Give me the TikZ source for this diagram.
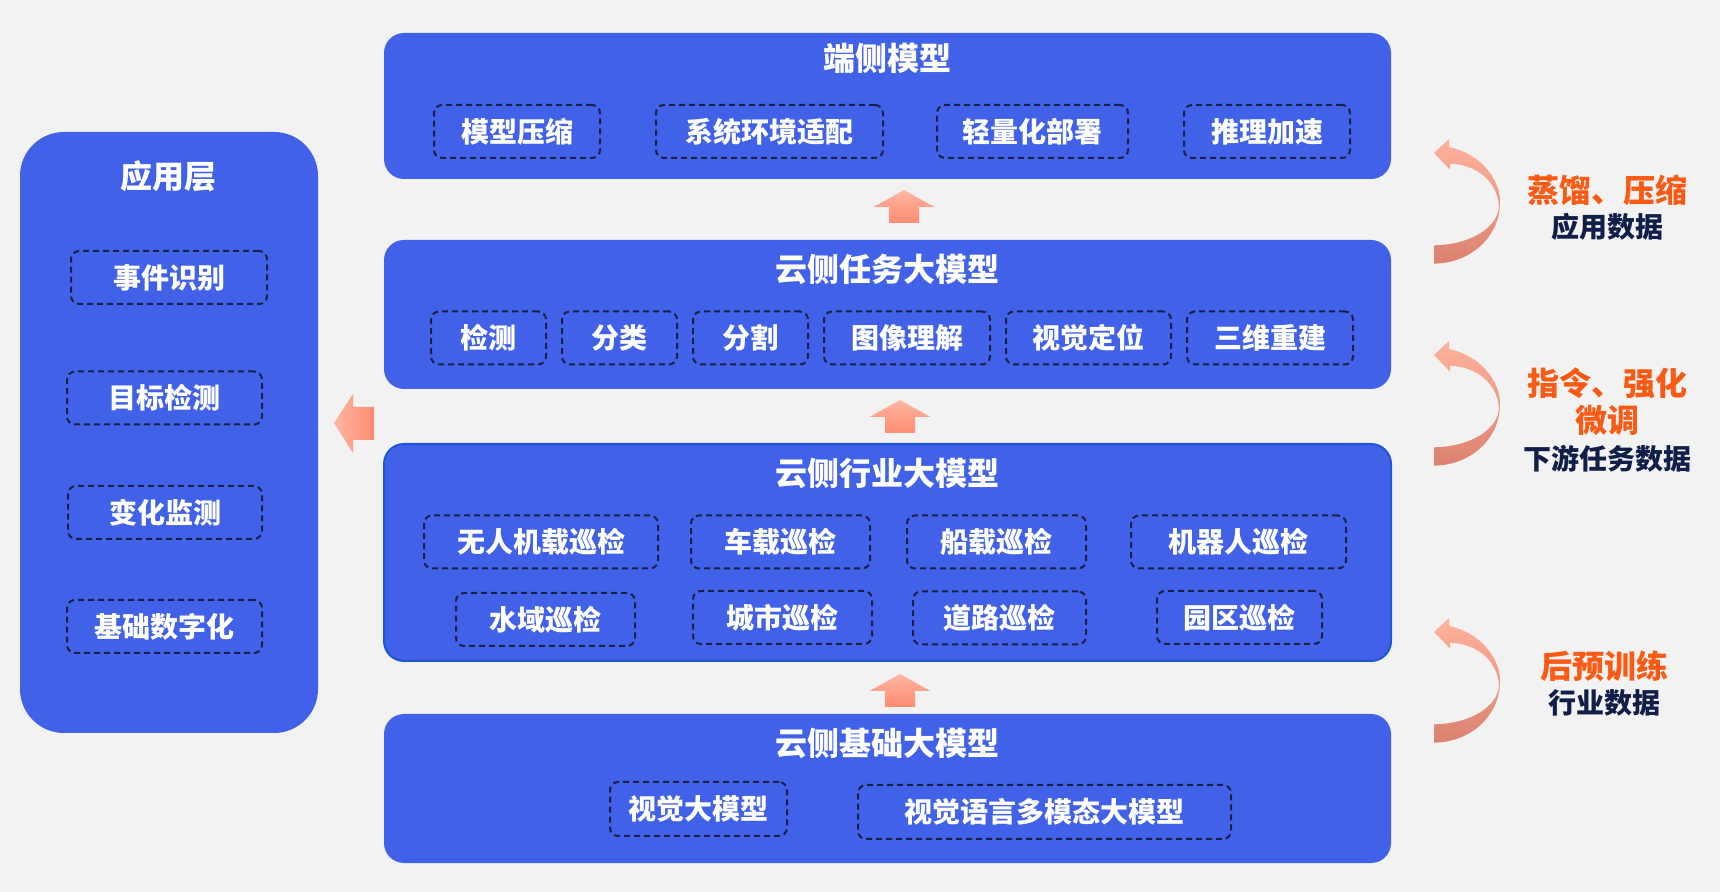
\documentclass[tikz,border=0pt]{standalone}
\usepackage{fontspec}
\setmainfont{Noto Sans CJK SC}
\usetikzlibrary{shapes.geometric}
\definecolor{bg}{HTML}{F2F2F2}
\definecolor{boxblue}{HTML}{4162E8}
\definecolor{edgeblue}{HTML}{1F56D6}
\definecolor{dashnavy}{HTML}{1A2045}
\definecolor{orangetxt}{HTML}{FA5A14}
\definecolor{navytxt}{HTML}{101E48}
\definecolor{arrlight}{HTML}{FFB6A1}
\definecolor{arrdark}{HTML}{FF8B72}
\definecolor{curvtop}{HTML}{FFB29C}
\definecolor{curvbot}{HTML}{DB826F}
\tikzset{
  bigbox/.style={fill=boxblue, rounded corners=10pt, inner sep=0pt},
  titletext/.style={text=white, font=\fontsize{16}{19}\selectfont\bfseries},
  itembox/.style={draw=dashnavy, line width=1pt, dash pattern=on 3pt off 2pt,
    rounded corners=4pt, text=white, font=\fontsize{14}{17}\selectfont\bfseries,
    inner sep=0pt, minimum height=26.5pt},
  orangetext/.style={text=orangetxt, font=\fontsize{16}{19}\selectfont\bfseries},
  navytext/.style={text=navytxt, font=\fontsize{14}{17}\selectfont\bfseries},
  uparrow/.style={top color=arrlight, bottom color=arrdark},
  curvarrow/.style={top color=curvtop, bottom color=curvbot},
}
\newcommand{\myup}[3]{% center x, tip y, name
  \shade[uparrow] (#1,#2) -- (#1+30.5,#2+17) -- (#1+15,#2+17) -- (#1+15,#2+33)
   -- (#1-15,#2+33) -- (#1-15,#2+17) -- (#1-30.5,#2+17) -- cycle;
  \coordinate (#3) at (#1,#2);
}
\newcommand{\mycurv}[2]{% tip x, tip y
  \shade[curvarrow] (#1,#2) -- (#1+15,#2-14) -- (#1+15,#2-6)
    .. controls (#1+45,#2) and (#1+66,#2+25) .. (#1+66,#2+49)
    .. controls (#1+66,#2+85) and (#1+35,#2+110.6) .. (#1,#2+110.6)
    -- (#1,#2+92.3)
    .. controls (#1+35,#2+92) and (#1+65,#2+75) .. (#1+65,#2+52)
    .. controls (#1+63,#2+30) and (#1+45,#2+12) .. (#1+16,#2+10.6)
    -- (#1+16,#2+16.6) -- cycle;
}
\begin{document}
\begin{tikzpicture}[x=0.5pt,y=-0.5pt]
\useasboundingbox (0,0) rectangle (1720,892);
\fill[bg] (0,0) rectangle (1720,892);

% application layer
\node[bigbox, rounded corners=22pt, minimum width=149pt, minimum height=300.5pt] (app) at (169,432.5) {};
\node[titletext] (apptitle) at (168,176) {应用层};
\node[itembox, minimum width=98pt] (a1) at (169,277.5) {事件识别};
\node[itembox, minimum width=97.5pt] (a2) at (164.5,398) {目标检测};
\node[itembox, minimum width=97pt] (a3) at (165,512.5) {变化监测};
\node[itembox, minimum width=97.5pt] (a4) at (164.5,626.5) {基础数字化};

% edge model
\node[bigbox, minimum width=503.5pt, minimum height=73pt] (edge) at (887.5,106) {};
\node[titletext] (edgetitle) at (887.5,58) {端侧模型};
\node[itembox, minimum width=83pt] (e1) at (517,131.5) {模型压缩};
\node[itembox, minimum width=113.5pt] (e2) at (769.5,131.5) {系统环境适配};
\node[itembox, minimum width=95.5pt] (e3) at (1032.5,131.5) {轻量化部署};
\node[itembox, minimum width=83pt] (e4) at (1267,131.5) {推理加速};

% task model
\node[bigbox, minimum width=503.5pt, minimum height=74.5pt] (task) at (887.5,314.5) {};
\node[titletext] (tasktitle) at (887.5,269) {云侧任务大模型};
\node[itembox, minimum width=57.5pt] (t1) at (488.5,338) {检测};
\node[itembox, minimum width=57.5pt] (t2) at (619.5,338) {分类};
\node[itembox, minimum width=57.5pt] (t3) at (750.5,338) {分割};
\node[itembox, minimum width=83pt] (t4) at (907,338) {图像理解};
\node[itembox, minimum width=82.5pt] (t5) at (1088.5,338) {视觉定位};
\node[itembox, minimum width=83pt] (t6) at (1270,338) {三维重建};

% industry model
\node[bigbox, draw=edgeblue, line width=1pt, minimum width=503.5pt, minimum height=108.5pt] (ind) at (887.5,552.5) {};
\node[titletext] (indtitle) at (887.5,473) {云侧行业大模型};
\node[itembox, minimum width=117pt] (i1) at (541,542) {无人机载巡检};
\node[itembox, minimum width=89.5pt] (i2) at (780.5,542) {车载巡检};
\node[itembox, minimum width=89.5pt] (i3) at (996.5,542) {船载巡检};
\node[itembox, minimum width=107.5pt] (i4) at (1238.5,542) {机器人巡检};
\node[itembox, minimum width=89.5pt] (i5) at (545.5,619.5) {水域巡检};
\node[itembox, minimum width=89.5pt] (i6) at (782.5,617.5) {城市巡检};
\node[itembox, minimum width=86.5pt] (i7) at (999.5,618) {道路巡检};
\node[itembox, minimum width=82.5pt] (i8) at (1239.5,617.5) {园区巡检};

% base model
\node[bigbox, minimum width=503.5pt, minimum height=74.5pt] (base) at (887.5,788.5) {};
\node[titletext] (basetitle) at (887.5,743) {云侧基础大模型};
\node[itembox, minimum width=88.5pt, minimum height=27pt] (b1) at (698.5,809) {视觉大模型};
\node[itembox, minimum width=186.5pt, minimum height=27pt] (b2) at (1044.5,812) {视觉语言多模态大模型};

% up arrows
\myup{904}{190}{u1}
\myup{900}{400}{u2}
\myup{900}{674}{u3}

% left arrow
\shade[left color=arrlight, right color=arrdark] (334,423) -- (353,394) -- (353,407) -- (374,407)
  -- (374,440) -- (353,440) -- (353,453) -- cycle;

% curved arrows
\mycurv{1434}{153}
\mycurv{1434}{355}
\mycurv{1434}{632}

% right texts
\node[orangetext] (r1) at (1607,190) {蒸馏、压缩};
\node[navytext] (r2) at (1607,227) {应用数据};
\node[orangetext] (r3) at (1607,383) {指令、强化};
\node[orangetext] (r4) at (1607,420) {微调};
\node[navytext] (r5) at (1607,459) {下游任务数据};
\node[orangetext] (r6) at (1604,666) {后预训练};
\node[navytext] (r7) at (1604,703) {行业数据};
\end{tikzpicture}
\end{document}
